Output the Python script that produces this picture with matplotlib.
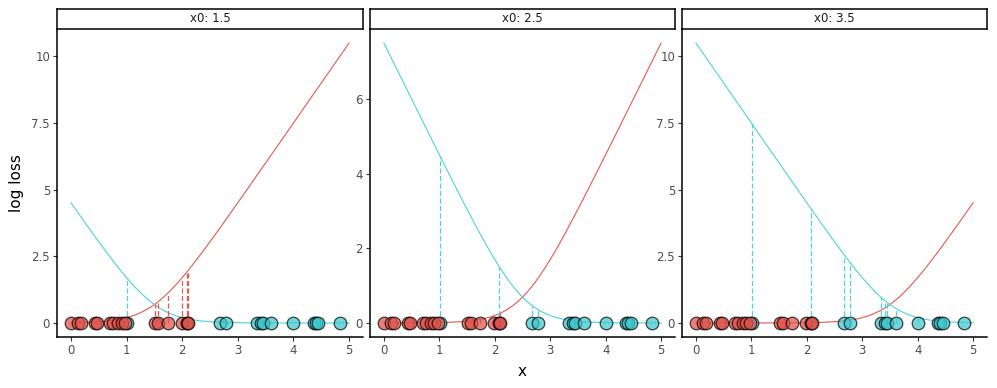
import matplotlib.pyplot as plt
import numpy as np

# data points (same in every facet)
x_red = [0.0, 0.13, 0.19, 0.43, 0.47, 0.70, 0.76, 0.85, 0.91, 0.97,
         1.51, 1.57, 1.74, 1.99, 2.08, 2.10]
x_cyan = [1.01, 2.08, 2.68, 2.78, 3.34, 3.41, 3.45, 3.60, 4.00,
          4.37, 4.40, 4.45, 4.84]
x0_vals = [1.5, 2.5, 3.5]
slope = 3
ytick_sets = [[0, 2.5, 5, 7.5, 10], [0, 2, 4, 6], [0, 2.5, 5, 7.5, 10]]
ytick_labels = [["0", "2.5", "5", "7.5", "10"], ["0", "2", "4", "6"],
                ["0", "2.5", "5", "7.5", "10"]]

RED_LINE = "#E4584D"
CYAN_LINE = "#4ED2D8"
RED_PT = "#DE5148"
CYAN_PT = "#3CC7CC"
GREY = "#4D4D4D"


def loss_red(x, x0):
    return np.log1p(np.exp(slope * (np.asarray(x) - x0)))


def loss_cyan(x, x0):
    return np.log1p(np.exp(-slope * (np.asarray(x) - x0)))


W, H = 997, 388
fig = plt.figure(figsize=(W / 100, H / 100), dpi=100)

panels = [(57, 363), (370, 675), (682, 987)]
top, strip_top, bottom = 29, 9, 337

xs = np.linspace(0, 5, 300)
for i, x0 in enumerate(x0_vals):
    l, r = panels[i]
    ax = fig.add_axes([l / W, 1 - bottom / H, (r - l) / W, (bottom - top) / H])
    sax = fig.add_axes([l / W, 1 - top / H, (r - l) / W, (top - strip_top) / H])
    sax.set_xticks([])
    sax.set_yticks([])
    for s in sax.spines.values():
        s.set_linewidth(1.1)
        s.set_color("black")
    sax.text(0.5, 0.5, "x0: %s" % x0, ha="center", va="center",
             fontsize=8.5, color="#1A1A1A", transform=sax.transAxes)

    yr = loss_red(xs, x0)
    yc = loss_cyan(xs, x0)
    ymax = max(yr.max(), yc.max())
    ax.plot(xs, yr, color=RED_LINE, lw=0.8, zorder=2)
    ax.plot(xs, yc, color=CYAN_LINE, lw=0.8, zorder=2)

    ax.vlines(x_red, 0, loss_red(x_red, x0), colors=RED_LINE, linestyles=(0, (4, 2)),
              lw=0.9, zorder=2)
    ax.vlines(x_cyan, 0, loss_cyan(x_cyan, x0), colors=CYAN_LINE, linestyles=(0, (4, 2)),
              lw=0.9, zorder=2)

    ax.scatter(x_cyan, np.zeros(len(x_cyan)), s=82, color=CYAN_PT, alpha=0.72,
               edgecolors="black", linewidths=0.9, zorder=3)
    ax.scatter(x_red, np.zeros(len(x_red)), s=82, color=RED_PT, alpha=0.72,
               edgecolors="black", linewidths=0.9, zorder=3)

    ax.set_xlim(-0.25, 5.25)
    ax.set_ylim(-0.05 * ymax, ymax * 1.05)
    ax.set_xticks([0, 1, 2, 3, 4, 5])
    ax.set_yticks(ytick_sets[i])
    ax.set_yticklabels(ytick_labels[i])
    ax.tick_params(labelsize=8.5, colors=GREY, length=3, width=0.8, pad=2)
    ax.tick_params(axis="both", color="#333333")
    for s in ["top", "right"]:
        ax.spines[s].set_visible(False)
    for s in ["left", "bottom"]:
        ax.spines[s].set_linewidth(1.1)
        ax.spines[s].set_color("black")
    ax.set_facecolor("white")

fig.text(522 / W, 1 - 371 / H, "x", ha="center", va="center", fontsize=11)
fig.text(17 / W, 1 - 183 / H, "log loss", ha="center", va="center",
         fontsize=11, rotation=90)

fig.savefig("out.png", dpi=100)
